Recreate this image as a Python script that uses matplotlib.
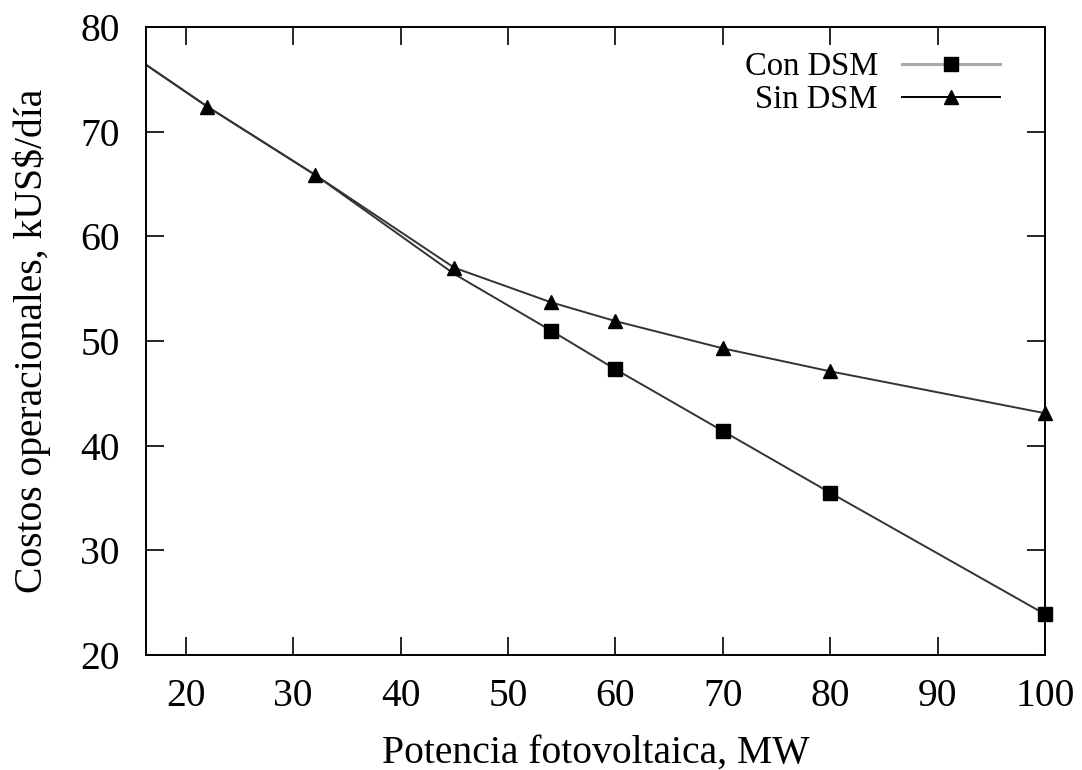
import matplotlib
matplotlib.use("Agg")
import matplotlib.pyplot as plt
from matplotlib.lines import Line2D

# Data
x_con = [15, 22, 32, 45, 54, 60, 70, 80, 100]
y_con = [77.3, 72.4, 65.9, 56.4, 51.0, 47.3, 41.4, 35.5, 23.9]
x_sin = [15, 22, 32, 45, 54, 60, 70, 80, 100]
y_sin = [77.3, 72.4, 65.9, 57.0, 53.7, 51.9, 49.3, 47.1, 43.1]
xticks = [20, 30, 40, 50, 60, 70, 80, 90, 100]
yticks = [20, 30, 40, 50, 60, 70, 80]

plt.rcParams['font.family'] = ['Liberation Serif', 'DejaVu Serif']

FS = 28.5
LFS = 23.5
fig = plt.figure(figsize=(10.82, 7.70), dpi=100)
ax = fig.add_axes([0.135, 0.1494, 0.8308, 0.8155])

line_col = '#333333'
# lines (clipped to the axes)
ax.plot(x_con, y_con, color=line_col, lw=1.4, zorder=2)
ax.plot(x_sin, y_sin, color=line_col, lw=1.4, zorder=2)
# markers (not clipped, so border markers show fully)
ax.plot(x_con, y_con, ls='none', marker='s', ms=10.5, mfc='black', mec='black',
        markevery=[4, 5, 6, 7, 8], clip_on=False, zorder=3)
ax.plot(x_sin, y_sin, ls='none', marker='^', ms=10, mfc='black', mec='black',
        markevery=list(range(1, 9)), clip_on=False, zorder=3)

ax.set_xlim(16.3, 100)
ax.set_ylim(20, 80)

ax.set_xticks(xticks)
ax.set_yticks(yticks)
ax.tick_params(direction='in', length=13, width=1.2, top=True, right=True,
               labelsize=FS, colors='black')
ax.tick_params(axis='x', pad=16.5)
ax.tick_params(axis='y', pad=19)
for s in ax.spines.values():
    s.set_linewidth(1.4)

ax.set_xlabel('Potencia fotovoltaica, MW', fontsize=FS, labelpad=14)
ax.set_ylabel('Costos operacionales, kUS$/día', fontsize=FS, labelpad=21)

handles = [
    Line2D([], [], color='#aaaaaa', lw=2.2, marker='s', ms=10.5, mfc='black', mec='black'),
    Line2D([], [], color='black', lw=1.4, marker='^', ms=10, mfc='black', mec='black'),
]
leg = ax.legend(handles, ['Con DSM', 'Sin DSM'], loc='upper right', frameon=False,
                markerfirst=False, fontsize=LFS, handlelength=3.0, handletextpad=0.74,
                labelspacing=0.09, borderpad=0, borderaxespad=0,
                bbox_to_anchor=(0.950, 0.961))

fig.savefig('out.png', dpi=100)
